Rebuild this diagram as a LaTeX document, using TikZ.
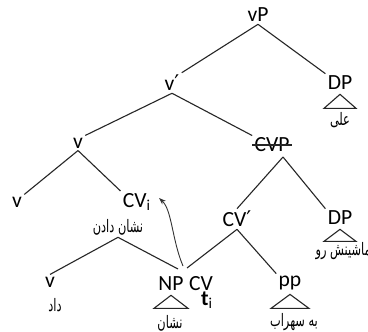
\documentclass[tikz,border=0pt]{standalone}
\usepackage{fontspec}
\usepackage{graphicx}
\setmainfont{Carlito}
\TeXXeTstate=1
\newfontfamily\arabicfont[Script=Arabic]{DejaVu Sans}
\newfontfamily\primefont{DejaVu Sans}
\usetikzlibrary{arrows.meta}
\newcommand\artext[1]{\scalebox{0.66}[1]{\arabicfont\fontsize{8.6}{9}\selectfont\beginR #1\endR}}
\newcommand\prm{{\primefont ′}}
\begin{document}
\begin{tikzpicture}[x=0.5pt,y=-0.5pt,
  lab/.style={inner sep=1pt, font=\fontsize{10.8}{12}\selectfont},
  arl/.style={inner sep=1pt},
  edge/.style={line width=0.55pt, draw=black!85},
  tri/.style={line width=0.55pt, draw=black!85}]
\useasboundingbox (0,0) rectangle (368,331);
\fill[white] (0,0) rectangle (368,331);
% nodes
\node[lab] (vP) at (258,15) {vP};
\node[lab] (vbar) at (172,83) {v\prm};
\node[lab] (DPa) at (340,83) {DP};
\node[arl] (ali) at (340,120) {\artext{علی}};
\node[lab] (va) at (78,143) {v};
\node[lab] (CVP) at (272,145) {CVP};
\node[lab] (vb) at (17,202) {v};
\node[lab] (CVi) at (137,202) {CV\textsubscript{i}};
\node[lab] (CVbar) at (237,219) {CV\prm};
\node[lab] (DPb) at (340,218) {DP};
\node[arl, anchor=east] (mashin) at (373,251) {\artext{ماشینش رو}};
\node[arl] (nd) at (118,227) {\artext{نشان دادن}};
\node[lab] (vc) at (50,282) {v};
\node[arl] (dad) at (55,305) {\artext{داد}};
\node[lab] (NP) at (171,284) {NP};
\node[lab] (CV) at (201,284) {CV};
\node[lab, inner sep=0pt] (ti) at (207,300) {\textbf{t}\textsubscript{i}};
\node[arl] (neshan) at (170,323) {\artext{نشان}};
\node[lab] (pp) at (290,283) {pp};
\node[arl] (sohrab) at (294,322) {\artext{به سهراب}};
% junction coordinates
\coordinate (jl) at (178,269);
\coordinate (jr) at (187,268);
\coordinate (ja) at (183,266);
\coordinate (tip) at (159,198);
\coordinate (cvpfoot) at (283,157);
% strike through CVP
\draw[edge] (CVP.west) -- (CVP.east);
% edges
\draw[edge] (vP.south) -- (vbar.north east);
\draw[edge] (vP.south) -- (DPa.north west);
\draw[edge] (vbar.south) -- (va.north east);
\draw[edge] (vbar.south) -- (CVP.north west);
\draw[edge] (va.south) -- (vb.north east);
\draw[edge] (va.south) -- (CVi.north west);
\draw[edge] (cvpfoot) -- (CVbar.north);
\draw[edge] (cvpfoot) -- (DPb.north west);
\draw[edge] (CVbar.south) -- (jr);
\draw[edge] (CVbar.south) -- (pp.north west);
\draw[edge] (nd.south) -- (vc.north);
\draw[edge] (nd.south) -- (jl);
% triangles
\draw[tri] ([yshift=-1]DPa.south) -- ++(-16,14) -- ++(32,0) -- cycle;
\draw[tri] ([yshift=-1]DPb.south) -- ++(-16,12) -- ++(32,0) -- cycle;
\draw[tri] ([yshift=-1]NP.south) -- ++(-17,13) -- ++(34,0) -- cycle;
\draw[tri] ([yshift=-1]pp.south) -- ++(-19,14) -- ++(38,0) -- cycle;
% movement arrow
\draw[line width=0.45pt, draw=black!80, -{Stealth[length=3.5pt,width=2.5pt]}] (ja) .. controls (172,240) and (172,210) .. (tip);
\end{tikzpicture}
\end{document}
